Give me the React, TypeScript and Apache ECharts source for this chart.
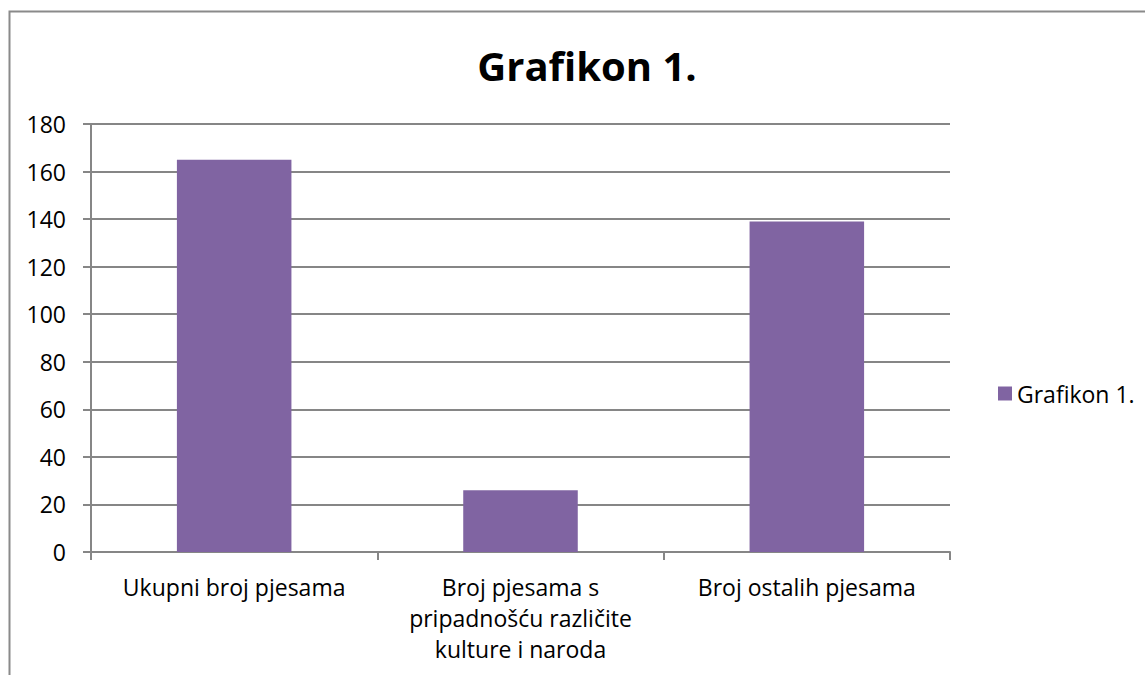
import React, { useEffect, useRef } from "react";
import * as echarts from "echarts";

const categories = [
  "Ukupni broj pjesama",
  "Broj pjesama s\npripadnošću različite\nkulture i naroda",
  "Broj ostalih pjesama",
];
const seriesName = "Grafikon 1.";
const values = [165, 26, 139];
const yMin = 0;
const yMax = 180;
const yInterval = 20;

const FONT = "'Open Sans', sans-serif";

export default function App() {
  const ref = useRef<HTMLDivElement>(null);
  useEffect(() => {
    if (!ref.current) return;
    const chart = echarts.init(ref.current, null, { renderer: "svg" });
    chart.setOption({
      animation: false,
      backgroundColor: "#ffffff",
      textStyle: { fontFamily: FONT },
      title: {
        text: "Grafikon 1.",
        left: 582,
        textAlign: "center",
        top: 40,
        textStyle: { fontFamily: FONT, fontSize: 40, fontWeight: "bold", color: "#000" },
      },
      legend: {
        show: true,
        data: [seriesName],
        orient: "vertical",
        left: 993,
        top: 377,
        icon: "rect",
        itemWidth: 14,
        itemHeight: 14,
        itemGap: 6,
        textStyle: { fontFamily: FONT, fontSize: 23, color: "#000" },
      },
      graphic: [
        {
          type: "rect",
          shape: { x: 9.5, y: 11.5, width: 1300, height: 1000 },
          style: { fill: "none", stroke: "#8a8a8a", lineWidth: 2 },
          silent: true,
        },
      ],
      grid: { left: 91, right: 195, top: 124, bottom: 123, containLabel: false },
      xAxis: {
        type: "category",
        data: categories,
        axisLine: { show: true, lineStyle: { color: "#868686", width: 2 } },
        axisTick: { show: true, length: 8, lineStyle: { color: "#868686", width: 2 } },
        axisLabel: {
          fontFamily: FONT,
          fontSize: 23,
          color: "#000",
          margin: 19,
          lineHeight: 31,
          interval: 0,
        },
      },
      yAxis: {
        type: "value",
        min: yMin,
        max: yMax,
        interval: yInterval,
        axisLine: { show: true, lineStyle: { color: "#868686", width: 2 } },
        axisTick: { show: true, length: 8, lineStyle: { color: "#868686", width: 2 } },
        axisLabel: { fontFamily: FONT, fontSize: 23, color: "#000", margin: 25 },
        splitLine: { show: true, lineStyle: { color: "#868686", width: 2 } },
      },
      series: [
        {
          name: seriesName,
          type: "bar",
          data: values,
          barWidth: "40%",
          itemStyle: { color: "#8064A2" },
        },
      ],
    });
    return () => chart.dispose();
  }, []);
  return (
    <div
      ref={ref}
      style={{ position: "fixed", left: 0, top: 0, width: 1145, height: 675 }}
    />
  );
}
